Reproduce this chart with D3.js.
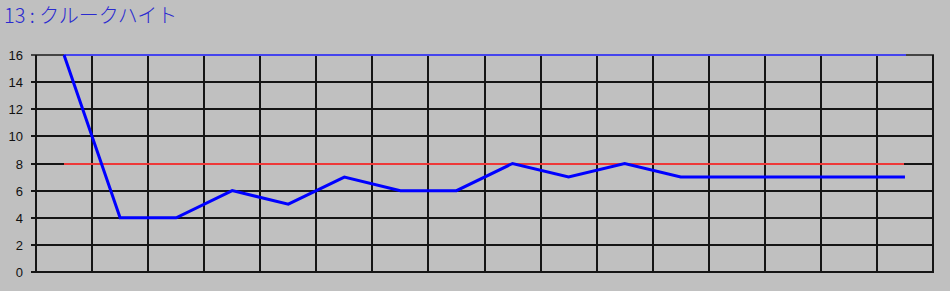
<!DOCTYPE html>
<html><head><meta charset="utf-8">
<script src="https://cdn.jsdelivr.net/npm/d3@7"></script>
<style>
html,body{margin:0;padding:0;background:#c0c0c0;}
svg{display:block;}
</style></head>
<body>
<script>
const title = "13 : クルークハイト";
const categories = d3.range(1, 17);
const values = [16, 4, 4, 6, 5, 7, 6, 6, 8, 7, 8, 7, 7, 7, 7, 7];
const upperLine = 16;
const midLine = 8;
const yTicks = [0, 2, 4, 6, 8, 10, 12, 14, 16];

(function () {
const W = 950, H = 291;
const svg = d3.select("body").append("svg").attr("width", W).attr("height", H);
svg.append("rect").attr("width", W).attr("height", H).attr("fill", "#c0c0c0");

const pl = 36, pr = 933, pt = 55, pb = 272;
const x = d3.scaleBand().domain(categories).range([pl, pr]).padding(0);
const y = d3.scaleLinear().domain([0, 16]).range([pb, pt]);
const cx = d => x(d) + x.bandwidth() / 2;
const ry = d => Math.round(y(d));

// title
svg.append("text").attr("x", 4).attr("y", 23)
  .attr("font-family", "'Noto Sans CJK JP', sans-serif").attr("font-size", 20)
  .attr("font-weight", 300)
  .attr("fill", "#2a2ad0").text(title);

// y axis
const yAxis = d3.axisLeft(y).tickValues(yTicks).tickSize(0).tickPadding(0);
const gy = svg.append("g").attr("transform", `translate(${pl},0)`).call(yAxis);
gy.select(".domain").remove();
gy.selectAll("text").attr("x", -13).attr("dy", "0.35em")
  .attr("font-family", "Arial, 'Liberation Sans', sans-serif").attr("font-size", 13).attr("fill", "#111");

const grid = svg.append("g").attr("shape-rendering", "crispEdges");
// horizontal grid
grid.selectAll("line.h").data(yTicks).join("line").attr("class", "h")
  .attr("x1", pl - 5).attr("x2", pr + 1)
  .attr("y1", d => ry(d)).attr("y2", d => ry(d))
  .attr("stroke", d => d === 16 ? "#444" : "#151515").attr("stroke-width", 2);

// vertical grid
const edges = categories.map(c => x(c)).concat([pr]);
grid.selectAll("line.v").data(edges).join("line").attr("class", "v")
  .attr("x1", d => Math.round(d)).attr("x2", d => Math.round(d))
  .attr("y1", ry(16)).attr("y2", ry(0))
  .attr("stroke", "#151515").attr("stroke-width", 2);

const x0 = cx(categories[0]), x1 = cx(categories[categories.length - 1]) + 1;
// reference lines
const ref = svg.append("g").attr("shape-rendering", "crispEdges");
ref.append("line").attr("x1", x0).attr("x2", x1).attr("y1", ry(upperLine)).attr("y2", ry(upperLine))
  .attr("stroke", "#4444ee").attr("stroke-width", 2);
ref.append("line").attr("x1", x0).attr("x2", x1 - 2).attr("y1", ry(midLine)).attr("y2", ry(midLine))
  .attr("stroke", "#ee3838").attr("stroke-width", 2);

// data line
const line = d3.line().x((d, i) => cx(categories[i])).y(d => y(d));
svg.append("path").datum(values).attr("d", line)
  .attr("fill", "none").attr("stroke", "#0000ff").attr("stroke-width", 3).attr("stroke-linejoin", "miter");
})();
</script>
</body></html>
